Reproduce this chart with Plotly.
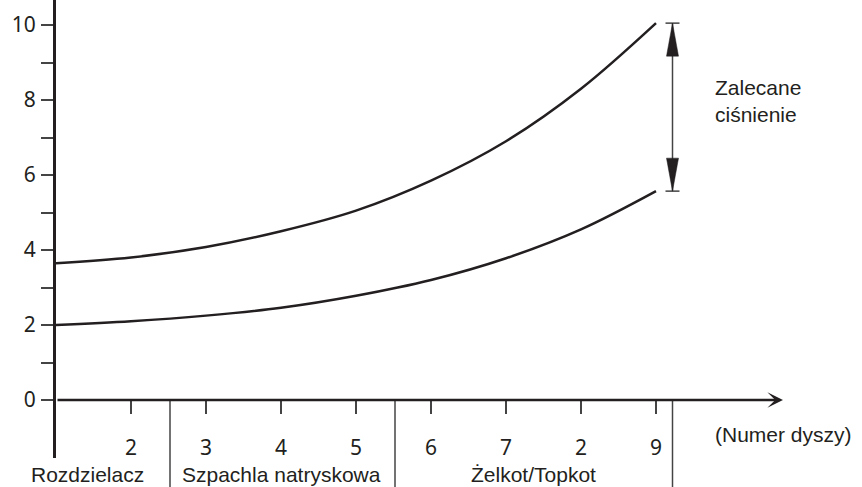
import plotly.graph_objects as go

# ---- data ----
nozzle_pos = [1, 2, 3, 4, 5, 6, 7, 8, 9]
upper_pressure = [3.65, 3.8, 4.08, 4.5, 5.05, 5.85, 6.9, 8.3, 10.05]
lower_pressure = [2.0, 2.1, 2.25, 2.46, 2.78, 3.2, 3.78, 4.55, 5.57]
x_tick_vals = [2, 3, 4, 5, 6, 7, 8, 9]
x_tick_text = ["2", "3", "4", "5", "6", "7", "2", "9"]
y_tick_vals = list(range(0, 11))
y_tick_text = ["0", "", "2", "", "4", "", "6", "", "8", "", "10"]
group_names = ["Rozdzielacz", "Szpachla natryskowa", "Żelkot/Topkot"]
group_label_x = [1.42, 4.0, 7.36]
group_bounds = [2.52, 5.52, 9.22]
x_axis_title = "(Numer dyszy)"
range_label = "Zalecane<br>ciśnienie"

# ---- geometry / style ----
W, H = 862, 487
X0_PX, PX_PER_X = 56, 75.0
Y0_PX, PX_PER_Y = 400, 37.5
YAX_BOTTOM_PX = 458
INK = "#231f20"
TXT_FONT = dict(family="Liberation Sans, Arial, sans-serif", size=21, color=INK)
NUM_FONT = dict(family="Noto Sans, DejaVu Sans, sans-serif", size=21, color=INK)

x_range = [1, 1 + (W - X0_PX) / PX_PER_X]
y_range = [(Y0_PX - YAX_BOTTOM_PX) / PX_PER_Y, Y0_PX / PX_PER_Y]
y_dom0 = (H - YAX_BOTTOM_PX) / H
xaxis_pos = (H - Y0_PX) / H

def paper_y(px):
    return (H - px) / H

def data_x(px):
    return 1 + (px - X0_PX) / PX_PER_X

fig = go.Figure()
for ys in (upper_pressure, lower_pressure):
    fig.add_trace(go.Scatter(x=nozzle_pos, y=ys, mode="lines",
                             line=dict(color=INK, width=2.5, shape="spline", smoothing=1.0),
                             hoverinfo="skip", showlegend=False))

fig.update_layout(
    width=W, height=H, margin=dict(l=0, r=0, t=0, b=0),
    paper_bgcolor="white", plot_bgcolor="white", showlegend=False,
    xaxis=dict(domain=[X0_PX / W, 1], range=x_range, anchor="free", position=xaxis_pos,
               showgrid=False, zeroline=False, showline=False,
               ticks="outside", ticklen=13, tickwidth=1.5, tickcolor="#444",
               tickvals=x_tick_vals, ticktext=x_tick_text, tickfont=NUM_FONT,
               ticklabelstandoff=16),
    yaxis=dict(domain=[y_dom0, 1], range=y_range, anchor="x",
               showgrid=False, zeroline=False, showline=True, linecolor=INK, linewidth=3,
               ticks="outside", ticklen=12, tickwidth=1.5, tickcolor="#444",
               tickvals=y_tick_vals, ticktext=y_tick_text, tickfont=NUM_FONT,
               ticklabelstandoff=1),
)

# x axis line with arrow
fig.add_annotation(x=data_x(783), y=0, ax=1, ay=0,
                   xref="x", yref="y", axref="x", ayref="y", text="",
                   showarrow=True, arrowhead=3, arrowsize=1.0, arrowwidth=2.6,
                   arrowcolor=INK, standoff=0)

# group separators
for b in group_bounds:
    fig.add_shape(type="line", xref="x", yref="paper", x0=b, x1=b,
                  y0=paper_y(Y0_PX), y1=paper_y(487), line=dict(color="#444", width=1.5))

# group labels
for name, gx in zip(group_names, group_label_x):
    fig.add_annotation(x=gx, y=paper_y(474), xref="x", yref="paper", text=name,
                       showarrow=False, xanchor="center", yanchor="middle", font=TXT_FONT)

fig.add_annotation(x=data_x(713), y=paper_y(434), xref="x", yref="paper",
                   text=x_axis_title, showarrow=False, xanchor="left", yanchor="middle",
                   font=TXT_FONT)

# recommended pressure double arrow
ax_x = group_bounds[-1]
top = upper_pressure[-1]
bot = lower_pressure[-1]
cap_hw = 7 / PX_PER_X
head_hw = 6 / PX_PER_X
head_len = 33 / PX_PER_Y
fig.add_shape(type="line", xref="x", yref="y", x0=ax_x, x1=ax_x, y0=bot, y1=top,
              line=dict(color="#444", width=1.5))
for yv in (top, bot):
    fig.add_shape(type="line", xref="x", yref="y", x0=ax_x - cap_hw, x1=ax_x + cap_hw,
                  y0=yv, y1=yv, line=dict(color="#444", width=1.5))
fig.add_shape(type="path", xref="x", yref="y",
              path=f"M {ax_x},{top} L {ax_x - head_hw},{top - head_len} L {ax_x + head_hw},{top - head_len} Z",
              fillcolor=INK, line=dict(color=INK, width=0.5))
fig.add_shape(type="path", xref="x", yref="y",
              path=f"M {ax_x},{bot} L {ax_x - head_hw},{bot + head_len} L {ax_x + head_hw},{bot + head_len} Z",
              fillcolor=INK, line=dict(color=INK, width=0.5))

fig.add_annotation(x=data_x(713), y=(Y0_PX - 101) / PX_PER_Y, xref="x", yref="y",
                   text=range_label, showarrow=False, xanchor="left", yanchor="middle",
                   align="left", font=TXT_FONT)

fig.write_html("out.html", config={"displayModeBar": False},
               post_script="document.body.style.margin='0';document.body.style.overflow='hidden';")
